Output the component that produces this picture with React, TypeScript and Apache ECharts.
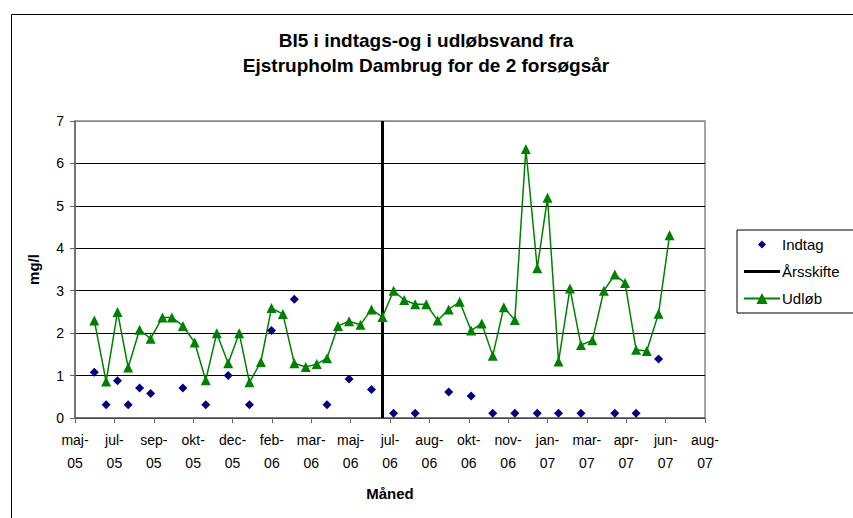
import React, { useEffect, useRef } from "react";
import * as echarts from "echarts";

// x positions are in tick-interval units along the date axis (0 = maj-05, 16 = aug-07)
const tickLabels = [
  "maj-\n05", "jul-\n05", "sep-\n05", "okt-\n05", "dec-\n05", "feb-\n06", "mar-\n06", "maj-\n06",
  "jul-\n06", "aug-\n06", "okt-\n06", "nov-\n06", "jan-\n07", "mar-\n07", "apr-\n07", "jun-\n07", "aug-\n07",
];

const udlobX = [
  0.49, 0.79, 1.08, 1.35, 1.64, 1.92, 2.22, 2.46, 2.74, 3.04,
  3.32, 3.6, 3.89, 4.17, 4.43, 4.72, 4.99, 5.28, 5.57, 5.86,
  6.14, 6.4, 6.68, 6.96, 7.25, 7.53, 7.81, 8.09, 8.36, 8.64,
  8.92, 9.21, 9.49, 9.77, 10.06, 10.33, 10.61, 10.89, 11.17, 11.45,
  11.74, 12.0, 12.28, 12.57, 12.85, 13.14, 13.43, 13.71, 13.97, 14.25,
  14.52, 14.82, 15.1,
];
const udlobY = [
  2.3, 0.86, 2.5, 1.19, 2.08, 1.87, 2.37, 2.37, 2.17, 1.78,
  0.89, 2.0, 1.29, 2.0, 0.84, 1.32, 2.59, 2.45, 1.29, 1.2,
  1.27, 1.41, 2.17, 2.28, 2.2, 2.56, 2.38, 3.0, 2.78, 2.68,
  2.68, 2.3, 2.56, 2.74, 2.06, 2.23, 1.47, 2.61, 2.31, 6.34,
  3.53, 5.19, 1.33, 3.05, 1.72, 1.83, 3.0, 3.38, 3.18, 1.61,
  1.58, 2.46, 4.31,
];

const indtagX = [
  0.49, 0.79, 1.08, 1.35, 1.64, 1.92, 2.74, 3.32, 3.89, 4.43,
  4.99, 5.57, 6.4, 6.96, 7.53, 8.09, 8.64, 9.49, 10.06, 10.61,
  11.17, 11.74, 12.28, 12.85, 13.71, 14.25, 14.82,
];
const indtagY = [
  1.08, 0.31, 0.88, 0.31, 0.71, 0.58, 0.71, 0.31, 1.0, 0.31,
  2.06, 2.8, 0.31, 0.92, 0.67, 0.11, 0.11, 0.61, 0.52, 0.11,
  0.11, 0.11, 0.11, 0.11, 0.11, 0.11, 1.39,
];

const aarsskifteX = 7.81;
const yRange = [0, 7];

const FONT = "'Liberation Sans', Arial, sans-serif";

// legend icons, padded to the 36x14 legend item box
const diamondIcon = "path://M18,3 L22,7 L18,11 L14,7 Z M0,0 L0,0 Z M36,14 L36,14 Z";
const thickLineIcon = "path://M0,5.5 L36,5.5 L36,8.5 L0,8.5 Z M0,0 L0,0 Z M36,14 L36,14 Z";

export default function App() {
  const ref = useRef<HTMLDivElement>(null);
  useEffect(() => {
    document.body.style.margin = "0";
    const chart = echarts.init(ref.current!, undefined, { renderer: "svg" });
    const gridColors = ["#000", "#000", "#000", "#000", "#000", "#000", "#000", "#888"];
    chart.setOption({
      animation: false,
      backgroundColor: "#fff",
      textStyle: { fontFamily: FONT },
      title: {
        text: "BI5 i indtags-og i udløbsvand fra\nEjstrupholm Dambrug for de 2 forsøgsår",
        left: 421,
        top: 23,
        textAlign: "center",
        textStyle: { fontFamily: FONT, fontSize: 19, fontWeight: "bold", color: "#000", lineHeight: 25 },
      },
      graphic: [
        {
          type: "rect",
          left: 9,
          top: 12,
          shape: { width: 900, height: 600 },
          style: { fill: "none", stroke: "#000", lineWidth: 1 },
          silent: true,
        },
      ],
      grid: {
        left: 75,
        top: 121,
        width: 630,
        height: 297,
        show: true,
        borderColor: "#888",
        borderWidth: 1.5,
      },
      legend: {
        orient: "vertical",
        left: 737,
        top: 230,
        padding: [7, 14, 7, 6],
        itemWidth: 36,
        itemHeight: 14,
        itemGap: 12,
        borderColor: "#000",
        borderWidth: 1,
        backgroundColor: "#fff",
        textStyle: { fontFamily: FONT, fontSize: 15, color: "#000", padding: [0, 0, 0, -3] },
        data: [
          { name: "Indtag", icon: diamondIcon },
          { name: "Årsskifte", icon: thickLineIcon },
          { name: "Udløb" },
        ],
      },
      xAxis: {
        type: "value",
        min: 0,
        max: 16,
        interval: 1,
        name: "Måned",
        nameLocation: "middle",
        nameGap: 68,
        nameTextStyle: { fontFamily: FONT, fontSize: 15, fontWeight: "bold", color: "#000" },
        axisLine: { show: true, onZero: false, lineStyle: { color: "#666", width: 1.5 } },
        axisTick: { show: true, length: 5, lineStyle: { color: "#666" } },
        splitLine: { show: false },
        axisLabel: {
          fontFamily: FONT,
          fontSize: 14,
          color: "#000",
          lineHeight: 23,
          margin: 10,
          formatter: (v: number) => tickLabels[Math.round(v)] ?? "",
        },
      },
      yAxis: {
        type: "value",
        min: yRange[0],
        max: yRange[1],
        interval: 1,
        name: "mg/l",
        nameLocation: "middle",
        nameGap: 34,
        nameTextStyle: { fontFamily: FONT, fontSize: 15, fontWeight: "bold", color: "#000" },
        axisLine: { show: true, lineStyle: { color: "#666", width: 1.5 } },
        axisTick: { show: true, length: 5, lineStyle: { color: "#666" } },
        splitLine: { show: true, lineStyle: { color: gridColors, width: 1 } },
        axisLabel: { fontFamily: FONT, fontSize: 14, color: "#000", margin: 11 },
      },
      series: [
        {
          name: "Indtag",
          type: "scatter",
          symbol: "diamond",
          symbolSize: 9,
          itemStyle: { color: "#000080", opacity: 1 },
          data: indtagX.map((x, i) => [x, indtagY[i]]),
          z: 4,
        },
        {
          name: "Årsskifte",
          type: "line",
          symbol: "none",
          lineStyle: { color: "#000", width: 3 },
          itemStyle: { color: "#000" },
          data: [
            [aarsskifteX, yRange[0]],
            [aarsskifteX, yRange[1]],
          ],
          z: 2,
        },
        {
          name: "Udløb",
          type: "line",
          symbol: "triangle",
          symbolSize: 10,
          showAllSymbol: true,
          lineStyle: { color: "#008000", width: 1.5 },
          itemStyle: { color: "#008000" },
          data: udlobX.map((x, i) => [x, udlobY[i]]),
          z: 3,
        },
      ],
    });
    return () => chart.dispose();
  }, []);
  return <div ref={ref} style={{ width: 853, height: 518, position: "absolute", left: 0, top: 0 }} />;
}
